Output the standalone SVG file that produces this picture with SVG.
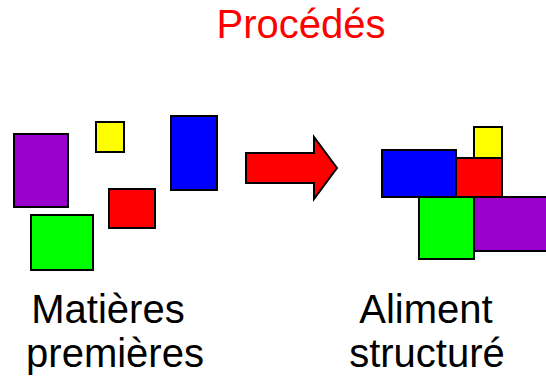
<svg xmlns="http://www.w3.org/2000/svg" width="546" height="387" viewBox="0 0 546 387">
<style>
.b{stroke:#000;stroke-width:2}
.t{font-family:"Liberation Sans",Arial,sans-serif;font-size:40px;text-anchor:middle}
</style>
<rect width="546" height="387" fill="#fff"/>
<text class="t" x="301" y="38" fill="#ff0000">Procédés</text>
<g id="raw">
<rect class="b" x="14" y="134" width="54" height="73" fill="#9900cc"/>
<rect class="b" x="96" y="122" width="28" height="30" fill="#ffff00"/>
<rect class="b" x="171" y="116" width="46" height="74" fill="#0000ff"/>
<rect class="b" x="109" y="189" width="46" height="39" fill="#ff0000"/>
<rect class="b" x="31" y="215" width="62" height="55" fill="#00ff00"/>
</g>
<g id="connectors">
<polygon class="b" points="246,153 314,153 314,137 337,168 314,199 314,183 246,183" fill="#ff0000"/>
</g>
<g id="food">
<rect class="b" x="474" y="127" width="28" height="31" fill="#ffff00"/>
<rect class="b" x="456" y="158" width="46" height="39" fill="#ff0000"/>
<rect class="b" x="382" y="150" width="74" height="47" fill="#0000ff"/>
<rect class="b" x="474" y="197" width="74" height="54" fill="#9900cc"/>
<rect class="b" x="419" y="197" width="55" height="62" fill="#00ff00"/>
</g>
<text class="t" x="108" y="323" fill="#000">Matières</text>
<text class="t" x="115" y="367" fill="#000">premières</text>
<text class="t" x="426" y="323" fill="#000">Aliment</text>
<text class="t" x="427" y="367" fill="#000">structuré</text>
</svg>
